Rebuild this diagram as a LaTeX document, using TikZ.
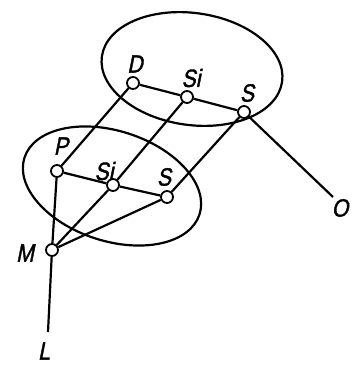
\documentclass[tikz,border=0pt]{standalone}
\usepackage{fontspec}
\setmainfont{Liberation Sans}
\newfontfamily\lblfont[FakeBold=1.5,FakeSlant=0.2,FakeStretch=0.85]{Liberation Sans}
\begin{document}
\begin{tikzpicture}[x=1pt,y=-1pt,line width=2.2pt,
  atom/.style={circle,draw,fill=white,inner sep=0pt,minimum size=12pt,line width=1.8pt},
  lbl/.style={font=\fontsize{25}{27}\selectfont\lblfont,inner sep=0pt}]
\useasboundingbox (0,0) rectangle (355,369);
% ellipses
\draw (192,69) ellipse[x radius=91,y radius=56,rotate=-8];
\draw (112,186) ellipse[x radius=92,y radius=55,rotate=-18];
% free ends
\coordinate (Oend) at (333,197);
\coordinate (Lend) at (48,332);
% atoms
\node[atom] (D) at (133,83) {};
\node[atom] (Si1) at (187,97) {};
\node[atom] (S1) at (244,112) {};
\node[atom] (P) at (57,171) {};
\node[atom] (Si2) at (113,185) {};
\node[atom] (S2) at (167,197) {};
\node[atom] (M) at (52,250) {};
% bonds
\draw (D) -- (Si1) -- (S1);
\draw (P) -- (Si2) -- (S2);
\draw (D) -- (P);
\draw (Si1) -- (Si2);
\draw (S1) -- (S2);
\draw (M) -- (P);
\draw (M) -- (Si2);
\draw (M) -- (S2);
\draw (M) -- (Lend);
\draw (S1) -- (Oend);
% labels
\node[lbl] (lD) at (135,64) {D};
\node[lbl] (lSi1) at (191,78) {Si};
\node[lbl] (lS1) at (247,93) {S};
\node[lbl] (lP) at (61,146) {P};
\node[lbl] (lSi2) at (104,171) {Si};
\node[lbl] (lS2) at (164,177) {S};
\node[lbl] (lM) at (25,253) {M};
\node[lbl] (lL) at (44,351) {L};
\node[lbl] (lO) at (340,208) {O};
\end{tikzpicture}
\end{document}
